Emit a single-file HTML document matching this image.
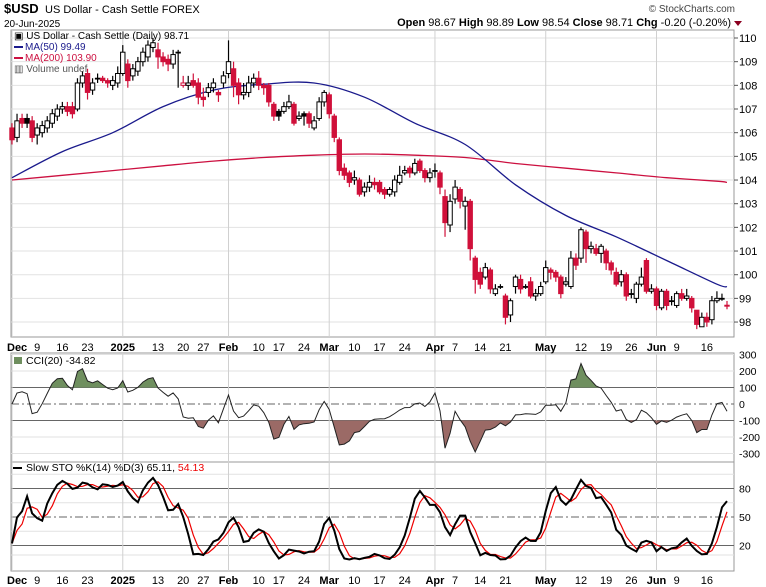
<!DOCTYPE html>
<html><head><meta charset="utf-8"><style>
body{margin:0;background:#fff;}
svg{display:block;font-family:"Liberation Sans",sans-serif;}
</style></head><body>
<svg id="c" width="766" height="587" xmlns="http://www.w3.org/2000/svg">
<rect x="0" y="0" width="766" height="587" fill="#fff"/>
<g>
<text x="4" y="13" font-size="13" font-weight="bold">$USD</text>
<text x="45" y="13" font-size="11">US Dollar - Cash Settle FOREX</text>
<text x="4" y="27" font-size="10">20-Jun-2025</text>
<text x="735" y="12" font-size="10" text-anchor="end" fill="#444">© StockCharts.com</text>
<text x="731" y="26" font-size="11" text-anchor="end"><tspan font-weight="bold">Open</tspan> 98.67 <tspan font-weight="bold">High</tspan> 98.89 <tspan font-weight="bold">Low</tspan> 98.54 <tspan font-weight="bold">Close</tspan> 98.71 <tspan font-weight="bold">Chg</tspan> -0.20 (-0.20%)</text>
<polygon points="734,21 742,21 738,26" fill="#8b0020"/>
</g>
<g id="grid"></g>
<g id="marks"></g>
<g id="axes"></g>
<g>
<text x="14" y="39" font-size="10">▣ US Dollar - Cash Settle (Daily) 98.71</text>
<line x1="14" y1="47" x2="23" y2="47" stroke="#1a1a8c" stroke-width="2"/>
<text x="25" y="50" font-size="10" fill="#1a1a8c">MA(50) 99.49</text>
<line x1="14" y1="58" x2="23" y2="58" stroke="#cc1040" stroke-width="2"/>
<text x="25" y="61" font-size="10" fill="#cc1040">MA(200) 103.90</text>
<text x="14" y="72" font-size="10" fill="#555">▥ Volume undef</text>
</g>
<g>
<rect x="14" y="357" width="8" height="7" fill="#6f8f5f"/>
<text x="26" y="364" font-size="10.5">CCI(20) -34.82</text>
</g>
<g>
<line x1="13" y1="468" x2="22" y2="468" stroke="#000" stroke-width="2"/>
<text x="26" y="471" font-size="10.5">Slow STO %K(14) %D(3) 65.11, <tspan fill="#e00">54.13</tspan></text>
</g>
</svg>
<script>
const opens=[106.2,105.8,106.6,106.6,106.5,105.9,106.0,106.2,106.4,106.7,107.0,107.1,107.1,107.0,108.1,108.5,107.8,108.3,108.3,108.2,108.0,108.1,108.5,108.9,108.4,108.6,109.0,109.2,109.6,109.5,109.2,109.1,108.9,109.4,108.0,108.0,108.2,108.1,107.5,107.7,107.9,107.7,108.1,108.5,108.7,108.1,107.6,107.7,108.1,108.3,108.0,108.0,107.2,106.9,106.9,107.1,107.2,106.6,106.8,106.8,106.2,106.6,107.3,107.6,106.7,105.7,104.5,104.3,104.0,104.0,103.5,103.7,103.9,103.9,103.6,103.4,103.5,103.9,104.3,104.5,104.3,104.8,104.4,104.1,104.4,104.3,103.3,102.1,103.2,103.6,102.9,103.1,100.7,100.1,99.9,100.2,99.2,99.5,99.1,98.3,99.5,99.8,99.5,99.7,99.1,99.2,99.7,100.2,100.1,99.9,99.6,99.5,100.7,100.7,101.8,101.1,101.1,100.9,101.0,100.5,100.1,99.7,100.0,99.2,99.0,99.6,100.6,99.3,99.4,98.6,99.3,98.9,98.7,99.2,99.0,99.0,98.5,97.8,98.2,98.1,98.9,99.0,98.67];
const closes=[105.7,106.5,106.4,106.4,105.8,106.2,106.3,106.5,106.8,107.0,107.1,106.9,106.8,108.1,108.4,107.7,108.1,108.3,108.2,108.1,108.2,108.5,109.4,108.2,108.7,109.0,109.4,109.7,109.8,109.2,109.0,108.9,109.3,109.4,108.1,108.1,108.0,107.5,107.4,107.9,108.1,107.6,108.4,109.0,108.0,107.6,107.7,108.1,108.3,108.0,107.9,107.3,106.7,106.7,107.1,107.3,106.4,106.7,106.7,106.4,106.5,107.3,107.7,106.8,105.8,104.4,104.2,103.9,104.1,103.4,103.7,103.9,103.8,103.5,103.4,103.6,104.0,104.2,104.4,104.3,104.7,104.4,104.1,104.3,104.4,103.7,102.2,103.1,103.7,103.1,103.1,101.1,99.8,99.6,100.3,99.4,99.4,99.5,98.2,98.9,99.9,99.4,99.5,99.1,99.2,99.5,100.3,100.1,99.9,99.2,99.7,100.7,100.4,101.9,101.1,101.2,100.9,101.2,100.5,100.2,99.6,100.0,99.1,99.2,99.6,99.9,99.3,99.4,98.7,99.3,98.7,98.9,99.2,99.0,99.1,98.6,97.9,98.2,98.0,98.9,99.0,99.0,98.71];
const highs=[106.4,106.8,106.8,106.8,106.7,106.4,106.5,106.7,107.0,107.2,107.3,107.3,107.3,108.3,108.6,108.7,108.3,108.5,108.4,108.3,108.4,108.8,109.7,109.1,108.9,109.2,109.6,109.9,110.0,109.8,109.4,109.3,109.5,109.5,108.4,108.4,108.5,108.3,107.9,108.1,108.3,107.8,108.6,109.9,109.0,108.3,108.1,108.4,108.5,108.6,108.1,108.1,107.3,107.0,107.3,107.6,107.3,106.9,106.9,106.9,106.7,107.5,107.8,107.7,106.8,105.8,104.7,104.4,104.4,104.1,103.9,104.2,104.1,104.0,103.7,103.7,104.2,104.6,104.6,104.6,104.9,104.9,104.5,104.5,104.7,104.4,103.6,103.4,104.0,103.7,103.3,103.2,100.8,100.3,100.5,100.3,99.6,99.6,99.2,99.0,100.0,100.0,99.6,99.9,99.4,99.7,100.6,100.3,100.2,100.0,99.9,101.0,100.9,102.0,101.9,101.4,101.3,101.3,101.1,100.6,100.3,100.2,100.1,99.4,99.7,100.3,100.7,99.6,99.5,99.4,99.4,99.1,99.3,99.4,99.4,99.1,98.5,98.4,98.4,99.1,99.3,99.2,98.89];
const lows=[105.5,105.6,106.2,106.2,105.6,105.5,105.8,106.0,106.2,106.5,106.8,106.7,106.6,106.9,107.9,107.4,107.6,108.1,108.1,107.9,107.8,107.9,108.4,107.9,108.2,108.4,108.8,109.0,109.4,108.7,108.8,108.6,108.7,107.9,107.9,107.8,107.9,107.2,107.1,107.5,107.7,107.3,107.9,108.3,107.5,107.2,107.4,107.5,107.9,107.8,107.6,107.1,106.5,106.5,106.8,107.0,106.3,106.5,106.3,106.2,106.1,106.5,107.1,106.6,105.6,104.2,104.0,103.7,103.8,103.3,103.3,103.5,103.6,103.4,103.2,103.3,103.3,103.8,104.2,104.1,104.2,104.3,103.9,103.9,104.1,103.4,101.6,101.8,103.0,102.8,101.9,100.6,99.2,99.4,99.8,99.2,99.1,99.4,97.9,98.0,99.2,99.2,99.4,99.0,98.9,99.1,99.6,99.8,99.7,99.0,99.5,99.4,100.2,100.5,100.5,100.9,100.8,100.5,100.2,100.0,99.5,99.5,98.9,99.0,98.8,99.5,99.2,99.2,98.5,98.5,98.5,98.7,98.6,98.9,98.9,98.4,97.7,97.8,97.8,97.9,98.8,98.9,98.54];
const maBars=[0,10,20,30,40,50,60,70,80,90,100,110,120,130,140,142];
const ma50=[104.1,105.2,106.0,107.1,107.8,108.05,108.1,107.5,106.4,105.5,103.8,102.5,101.6,100.6,99.6,99.49];
const ma200=[104.0,104.2,104.4,104.6,104.8,104.95,105.05,105.1,105.05,104.95,104.7,104.5,104.3,104.1,103.95,103.9];
const tickLabels=["Dec","9","16","23","2025","13","20","27","Feb","10","17","24","Mar","10","17","24","Apr","7","14","21","May","12","19","26","Jun","9","16"];
const tickBars=[0,5,10,15,22,29,34,38,43,49,53,58,63,68,73,78,84,88,93,98,106,113,118,123,128,132,138];
const monthTick=[1,0,0,0,1,0,0,0,1,0,0,0,1,0,0,0,1,0,0,0,1,0,0,0,1,0,0];
const priceTicks=[98,99,100,101,102,103,104,105,106,107,108,109,110];
const cciTicks=[300,200,100,0,-100,-200,-300];
const stoTicks=[20,50,80];

const NS="http://www.w3.org/2000/svg";
const L=11,R=734,N=closes.length;
const bx=i=>12+i*(727-12)/(N-1);
const py=p=>38+(110-p)*23.67;
const cy=v=>404-v*0.165;
const sy=v=>517-(v-50)*0.95;
function mk(parent,tag,attrs){const e=document.createElementNS(NS,tag);for(const k in attrs)e.setAttribute(k,attrs[k]);document.getElementById(parent).appendChild(e);return e;}
const RED="#d0103a";

const panels=[[30,337],[353,462],[462,571]];
panels.forEach((p,k)=>{
  const r=mk('grid','rect',{x:L,y:p[0],width:R-L,height:p[1]-p[0],fill:'none',stroke:'#999','stroke-width':1});
  
  
});
priceTicks.forEach(t=>{
  const y=py(t);
  const g=mk('grid','line',{x1:L,x2:R,y1:y,y2:y,stroke:'#e2e2e2'});
  
  
  mk('axes','line',{x1:R,x2:R+4,y1:y,y2:y,stroke:'#555'});
  const t1=mk('axes','text',{x:R+5,y:y+4,'font-size':11});
  t1.textContent=t;
  
  
});
[200,-200,300,-300].forEach(v=>{mk('grid','line',{x1:L,x2:R,y1:cy(v),y2:cy(v),stroke:'#e2e2e2'});});
cciTicks.forEach(v=>{
  const t1=mk('axes','text',{x:R+5,y:cy(v)+4,'font-size':10.5});
  t1.textContent=v;
  
  
});
[100,-100].forEach(v=>mk('grid','line',{x1:L,x2:R,y1:cy(v),y2:cy(v),stroke:'#666'}));
mk('grid','line',{x1:L,x2:R,y1:cy(0),y2:cy(0),stroke:'#666','stroke-dasharray':'8,3,2,3'});
[10,35,65,95].forEach(v=>mk('grid','line',{x1:L,x2:R,y1:sy(v),y2:sy(v),stroke:'#e2e2e2'}));
[20,80].forEach(v=>mk('grid','line',{x1:L,x2:R,y1:sy(v),y2:sy(v),stroke:'#666'}));
mk('grid','line',{x1:L,x2:R,y1:sy(50),y2:sy(50),stroke:'#666','stroke-dasharray':'8,3,2,3'});
stoTicks.forEach(v=>{
  const t1=mk('axes','text',{x:R+5,y:sy(v)+4,'font-size':10.5});
  t1.textContent=v;
  
  
});
tickBars.forEach((b,k)=>{
  const x=bx(b);
  if(monthTick[k]){panels.forEach(p=>mk('grid','line',{x1:x,x2:x,y1:p[0],y2:p[1],stroke:'#d0d0d0'}));}
  [351,584].forEach(y=>{
    const t1=mk('axes','text',{x:k===0?7:x,y:y,'font-size':11,'text-anchor':k===0?'start':'middle','font-weight':monthTick[k]?'bold':'normal'});
    t1.textContent=tickLabels[k];
    
    
  });
});
// MAs (Catmull-Rom smooth through sampled points)
function maPath(vals){
  const p=maBars.map((b,i)=>[bx(b),py(vals[i])]);
  let d='M'+p[0][0].toFixed(1)+','+p[0][1].toFixed(1);
  for(let i=0;i<p.length-1;i++){
    const p0=p[Math.max(0,i-1)],p1=p[i],p2=p[i+1],p3=p[Math.min(p.length-1,i+2)];
    const c1=[p1[0]+(p2[0]-p0[0])/6,p1[1]+(p2[1]-p0[1])/6];
    const c2=[p2[0]-(p3[0]-p1[0])/6,p2[1]-(p3[1]-p1[1])/6];
    d+='C'+c1[0].toFixed(1)+','+c1[1].toFixed(1)+' '+c2[0].toFixed(1)+','+c2[1].toFixed(1)+' '+p2[0].toFixed(1)+','+p2[1].toFixed(1);
  }
  return d;
}
const m2=mk('marks','path',{d:maPath(ma200),fill:'none',stroke:'#cc1040','stroke-width':1.3});


const m1=mk('marks','path',{d:maPath(ma50),fill:'none',stroke:'#1a1a8c','stroke-width':1.3});


for(let i=0;i<N;i++){
  const x=bx(i),o=opens[i],c=closes[i];
  const prev=i?closes[i-1]:o;
  const col=c<prev?RED:'#000';
  const fill=c<o?col:'#fff';
  const w=mk('marks','line',{x1:x,x2:x,y1:py(highs[i]),y2:py(lows[i]),stroke:col,'stroke-width':1.2});
  
  
  const top=py(Math.max(o,c)),bot=py(Math.min(o,c));
  const r=mk('marks','rect',{x:x-2.2,y:top,width:4.4,height:Math.max(bot-top,0.8),fill:fill,stroke:col,'stroke-width':1});
  
  
}
const tp=closes.map((c,i)=>(highs[i]+lows[i]+c)/3);
const cci=tp.map((v,i)=>{
  const s=Math.max(0,i-19),w=tp.slice(s,i+1);
  const m=w.reduce((a,b)=>a+b,0)/w.length;
  const md=w.reduce((a,b)=>a+Math.abs(b-m),0)/w.length;
  return md?Math.max(-330,Math.min(330,(v-m)/(0.015*md))):0;
});
const cpts=cci.map((v,i)=>[bx(i),cy(v)]);
const cd='M'+cpts.map(p=>p[0].toFixed(1)+','+p[1].toFixed(1)).join('L');
const defs=mk('marks','defs',{});
defs.innerHTML='<clipPath id="ca"><rect x="0" y="0" width="766" height="'+cy(100)+'"/></clipPath><clipPath id="cb"><rect x="0" y="'+cy(-100)+'" width="766" height="300"/></clipPath>';
const fa=mk('marks','path',{d:cd+'L'+bx(N-1)+','+cy(100)+'L'+bx(0)+','+cy(100)+'Z',fill:'#6f8f5f','clip-path':'url(#ca)'});


const fb=mk('marks','path',{d:cd+'L'+bx(N-1)+','+cy(-100)+'L'+bx(0)+','+cy(-100)+'Z',fill:'#9b6a66','clip-path':'url(#cb)'});


const cl=mk('marks','path',{d:cd,fill:'none',stroke:'#222','stroke-width':1});


const fk=closes.map((c,i)=>{
  const s=Math.max(0,i-13);
  const hh=Math.max(...highs.slice(s,i+1)),ll=Math.min(...lows.slice(s,i+1));
  return hh>ll?(c-ll)/(hh-ll)*100:50;
});
const sma3=a=>a.map((v,i)=>{const w=a.slice(Math.max(0,i-2),i+1);return w.reduce((x,y)=>x+y,0)/w.length;});
const sk=sma3(fk),sd=sma3(sk);
const sp=a=>'M'+a.map((v,i)=>bx(i).toFixed(1)+','+sy(v).toFixed(1)).join('L');
const dl=mk('marks','path',{d:sp(sd),fill:'none',stroke:'#e00','stroke-width':1.2});


const kl=mk('marks','path',{d:sp(sk),fill:'none',stroke:'#000','stroke-width':2});


</script>
</body></html>
